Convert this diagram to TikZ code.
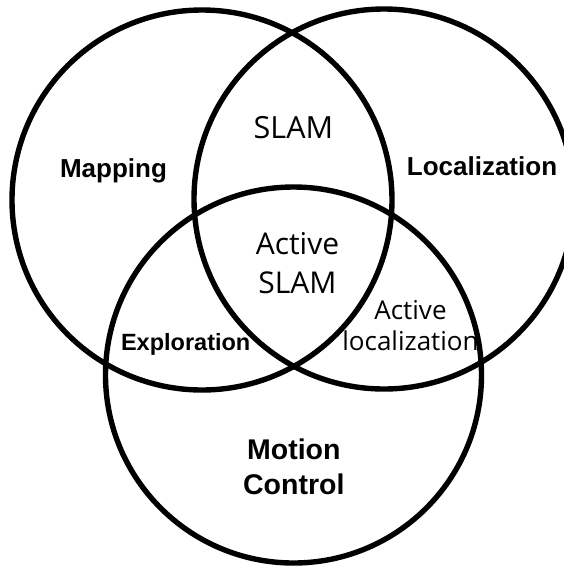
\documentclass[tikz,border=0pt]{standalone}
\usepackage{fontspec}
\setmainfont{Liberation Sans}
\newfontfamily\osans{Open Sans}
\begin{document}
\begin{tikzpicture}[x=1pt,y=-1pt,
  ring/.style={draw=black,line width=5.4pt},
  boldlbl/.style={inner sep=0pt,font=\bfseries},
  thinlbl/.style={inner sep=0pt,align=center},
]
\useasboundingbox (0,0) rectangle (564,566);
\clip (0,0) rectangle (564,566);
\fill[white] (0,0) rectangle (564,566);
\node[ring,circle,minimum size=380pt,inner sep=0pt] (map) at (202,200) {};
\node[ring,circle,minimum size=380pt,inner sep=0pt] (loc) at (384,199) {};
\node[ring,circle,minimum size=376pt,inner sep=0pt] (mot) at (293.5,375) {};
\node[boldlbl,anchor=base,font=\bfseries\fontsize{26}{30}\selectfont] (tmap) at (113.5,177) {Mapping};
\node[boldlbl,anchor=base,font=\bfseries\fontsize{26}{30}\selectfont] (tloc) at (482,175) {Localization};
\node[boldlbl,anchor=base,font=\bfseries\fontsize{23.5}{28}\selectfont] (texp) at (185.7,350) {Exploration};
\node[boldlbl,align=center,font=\bfseries\fontsize{28.5}{35}\selectfont] (tmot) at (293.8,467.3) {Motion\\Control};
\node[thinlbl,anchor=base,font=\osans\fontsize{30.5}{36}\selectfont] (tslam) at (293.4,138.3) {SLAM};
\node[thinlbl,font=\osans\fontsize{30}{38.4}\selectfont] (tas) at (297.5,263) {Active\\SLAM};
\node[thinlbl,font=\osans\fontsize{26}{30.7}\selectfont] (tal) at (410.5,325.5) {Active\\localization};
\end{tikzpicture}
\end{document}
